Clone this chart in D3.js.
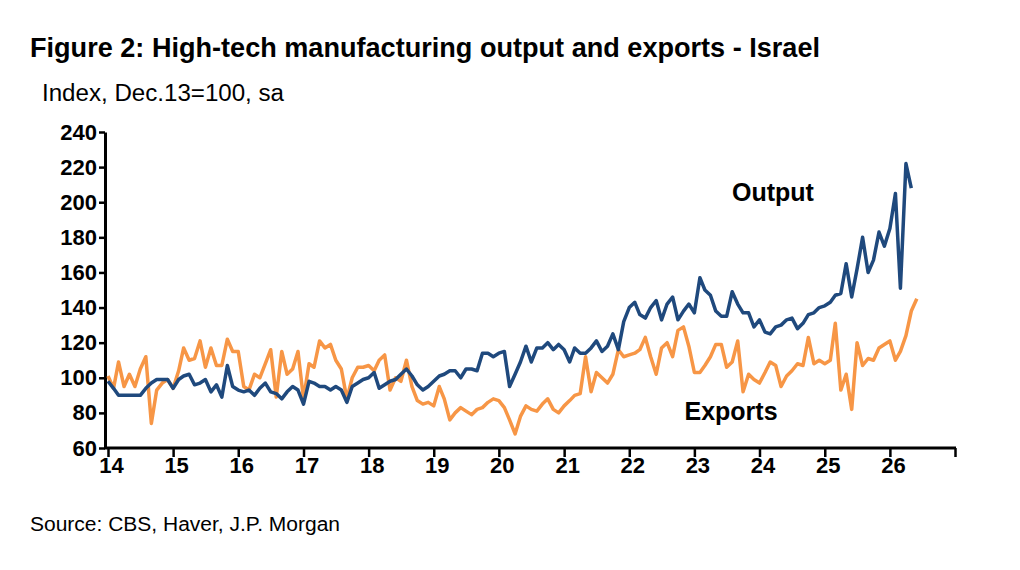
<!DOCTYPE html>
<html>
<head>
<meta charset="utf-8">
<script src="https://cdn.jsdelivr.net/npm/d3@7"></script>
<style>
  body { margin: 0; background: #fff; }
  text { font-family: "Liberation Sans Narrow", "Liberation Sans", Arial, sans-serif; }
</style>
</head>
<body>
<svg id="chart" width="1020" height="570"></svg>
<script>
// ---------------- data (monthly, from Jan 2014) ----------------
const startYear = 2014;
const output = [98,94,90,90,90,90,90,94,97,99,99,99,94,99,101,102,96,97,99,92,96,89,107,95,93,92,93,90,94,97,92,91,88,92,95,93,85,98,97,95,95,93,
  95,93,86,95,97,99,100,103,94,96,98,99,102,105,101,96,93,95,98,101,102,104,104,100,105,105,104,114,114,112,114,115,95,102,109,118,109,117,117,120,116,
  119,116,109,117,114,114,117,121,115,118,125,116,132,140,143,136,134,140,144,133,142,146,133,138,142,137,157,150,147,138,135,135,149,142,137,137,129,133,126,125,129,
  130,133,134,128,131,136,137,140,141,143,147,148,165,146,162,180,160,167,183,175,185,205,151,222,208];
const exports_ = [101,94,109,95,102,95,105,112,74,93,97,99,94,104,117,110,111,121,106,117,107,107,122,115,115,95,93,102,100,108,116,89,115,102,105,115,88,108,106,121,117,
  119,110,105,88,100,106,106,107,104,110,113,93,100,98,110,95,87,85,86,84,95,88,76,80,83,81,79,82,83,86,88,87,83,76,68,78,84,82,81,85,88,82,80,84,87,
  90,91,112,92,103,100,97,102,116,112,113,114,116,123,112,102,117,120,112,127,129,118,103,103,107,112,119,119,106,109,121,92,102,99,97,103,109,107,
  95,101,104,108,107,123,108,110,108,110,131,93,102,82,120,107,111,110,117,119,121,110,115,124,138,145];
const yTicks = [60,80,100,120,140,160,180,200,220,240];
const xYears = d3.range(2014, 2028);

// ---------------- layout ----------------
const svg = d3.select('#chart');
const x = d3.scaleTime().domain([new Date(2014,0,1), new Date(2027,0,1)]).range([108, 955]);
const y = d3.scaleLinear().domain([60, 240]).range([448, 132]);
const dateOf = (i) => new Date(startYear, i, 1);

svg.append('text').attr('x', 30).attr('y', 57).attr('font-size', 28).attr('font-weight', 'bold')
  .attr('textLength', 790).attr('lengthAdjust', 'spacingAndGlyphs')
  .text('Figure 2: High-tech manufacturing output and exports - Israel');
svg.append('text').attr('x', 42).attr('y', 101).attr('font-size', 23)
  .attr('textLength', 242).attr('lengthAdjust', 'spacingAndGlyphs')
  .text('Index, Dec.13=100, sa');
svg.append('text').attr('x', 30).attr('y', 531).attr('font-size', 20)
  .attr('textLength', 310).attr('lengthAdjust', 'spacingAndGlyphs')
  .text('Source: CBS, Haver, J.P. Morgan');

// y axis
const yAxis = svg.append('g').attr('transform', 'translate(105,0)')
  .call(d3.axisLeft(y).tickValues(yTicks).tickSize(6).tickSizeOuter(0));
yAxis.select('.domain').attr('stroke-width', 3);
yAxis.selectAll('line').attr('stroke-width', 2.5);
yAxis.selectAll('text').attr('font-size', 22).attr('font-weight', 'bold').attr('x', -8)
  .attr('font-family', '"Liberation Sans Narrow", "Liberation Sans", Arial, sans-serif');

// x axis
const xAxis = svg.append('g').attr('transform', 'translate(0,448)')
  .call(d3.axisBottom(x).tickValues(xYears.map(yr => new Date(yr,0,1)))
    .tickFormat(d => d.getFullYear() < 2027 ? String(d.getFullYear()).slice(2) : '')
    .tickSize(9).tickSizeOuter(0));
xAxis.select('.domain').attr('stroke-width', 3).attr('d', 'M104,0H956');
xAxis.selectAll('line').attr('stroke-width', 2.5);
xAxis.selectAll('text').attr('font-size', 22).attr('font-weight', 'bold').attr('y', 9).attr('dx', 3)
  .attr('font-family', '"Liberation Sans Narrow", "Liberation Sans", Arial, sans-serif');

// lines
const line = d3.line().x((d, i) => x(dateOf(i))).y(d => y(d));
svg.append('path').datum(exports_).attr('d', line).attr('fill', 'none')
  .attr('stroke', '#f79646').attr('stroke-width', 3.5).attr('stroke-linejoin', 'round');
svg.append('path').datum(output).attr('d', line).attr('fill', 'none')
  .attr('stroke', '#1f497d').attr('stroke-width', 3.5).attr('stroke-linejoin', 'round');

// labels
svg.append('text').attr('x', 773).attr('y', 201).attr('text-anchor', 'middle')
  .attr('font-size', 25).attr('font-weight', 'bold').text('Output');
svg.append('text').attr('x', 731).attr('y', 420).attr('text-anchor', 'middle')
  .attr('font-size', 25).attr('font-weight', 'bold').text('Exports');
</script>
</body>
</html>
